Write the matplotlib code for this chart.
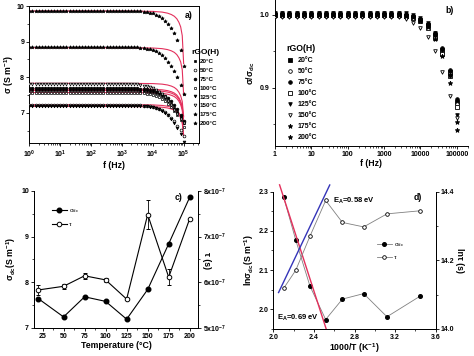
import numpy as np
import matplotlib
matplotlib.use("Agg")

import matplotlib.pyplot as plt
from matplotlib.ticker import MultipleLocator, LogLocator, FixedLocator, FuncFormatter, NullFormatter

plt.rcParams["font.family"] = ["Liberation Sans", "DejaVu Sans"]
plt.rcParams["font.weight"] = "bold"
plt.rcParams["axes.labelweight"] = "bold"
plt.rcParams["mathtext.fontset"] = "custom"
plt.rcParams["mathtext.rm"] = "Liberation Sans:bold"
plt.rcParams["mathtext.it"] = "Liberation Sans:italic:bold"
plt.rcParams["mathtext.bf"] = "Liberation Sans:bold"
plt.rcParams["mathtext.default"] = "regular"

# ---------------------------
# Data: panels a) and b)
# ---------------------------
temp_labels = ["20°C", "50°C", "75°C", "100°C", "125°C", "150°C", "175°C", "200°C"]
markers = ["s", "o", "o", "s", "v", "v", "*", "*"]
filled = [True, False, True, False, True, False, True, True]

freq = [1, 1.26, 1.58, 2.0, 2.51, 3.16, 3.98, 5.01, 6.31, 7.94,
        10, 12.6, 15.8, 20.0, 25.1, 31.6, 39.8, 50.1, 63.1, 79.4,
        100, 126, 158, 200, 251, 316, 398, 501, 631, 794,
        1000, 1260, 1580, 2000, 2510, 3160, 3980, 5010, 6310, 7940,
        10000, 12600, 15800, 20000, 25100, 31600, 39800, 50100, 63100, 79400,
        100000]

# flat level (sigma_dc, S/m) of each temperature in panel a
sigma_flat = [7.63, 7.23, 7.67, 7.57, 7.18, 7.83, 8.83, 9.86]

# sigma/sigma_dc (panel b): 35 flat points then the roll-off from 3.16 kHz to 100 kHz
ratio_20 = [1.000] * 35 + [1.0, 0.999, 0.998, 0.997, 0.995, 0.993, 0.990, 0.986,
                           0.980, 0.972, 0.962, 0.950, 0.937, 0.921, 0.902, 0.880]
ratio_50 = [0.998] * 35 + [0.998, 0.997, 0.996, 0.995, 0.993, 0.991, 0.988, 0.984,
                           0.978, 0.970, 0.960, 0.949, 0.935, 0.919, 0.900, 0.877]
ratio_75 = [1.002] * 35 + [1.002, 1.001, 1.0, 0.999, 0.997, 0.995, 0.992, 0.988,
                           0.982, 0.975, 0.966, 0.955, 0.941, 0.925, 0.906, 0.884]
ratio_100 = [1.000] * 35 + [1.0, 0.999, 0.998, 0.996, 0.994, 0.991, 0.987, 0.982,
                            0.976, 0.968, 0.958, 0.946, 0.932, 0.916, 0.897, 0.874]
ratio_125 = [1.003] * 35 + [1.003, 1.002, 1.001, 1.0, 0.998, 0.996, 0.993, 0.989,
                            0.983, 0.975, 0.965, 0.952, 0.936, 0.916, 0.892, 0.862]
ratio_150 = [0.997] * 35 + [0.996, 0.994, 0.992, 0.989, 0.986, 0.982, 0.977, 0.970,
                            0.961, 0.950, 0.937, 0.922, 0.906, 0.889, 0.873, 0.858]
ratio_175 = [1.001] * 35 + [1.001, 1.0, 0.999, 0.997, 0.995, 0.992, 0.988, 0.983,
                            0.976, 0.967, 0.956, 0.943, 0.927, 0.906, 0.882, 0.853]
ratio_200 = [1.000] * 35 + [1.0, 0.999, 0.998, 0.997, 0.995, 0.993, 0.990, 0.986,
                            0.980, 0.973, 0.964, 0.953, 0.938, 0.918, 0.890, 0.842]
ratios = [ratio_20, ratio_50, ratio_75, ratio_100, ratio_125, ratio_150, ratio_175, ratio_200]

# red fit curves of panel a (normalised)
fit_freq = [1, 1000, 10000, 20000, 30000, 40000, 50000, 60000, 70000, 80000, 90000, 100000]
fit_ratio_lo = [1.0, 1.0, 0.999, 0.997, 0.994, 0.990, 0.985, 0.978, 0.968, 0.955, 0.935, 0.880]
fit_ratio_hi = [1.0, 1.0, 0.999, 0.997, 0.994, 0.990, 0.985, 0.978, 0.968, 0.955, 0.930, 0.850]

# ---------------------------
# Data: panel c)
# ---------------------------
temps = [20, 50, 75, 100, 125, 150, 175, 200]
sigma_dc = [7.64, 7.24, 7.68, 7.58, 7.19, 7.84, 8.84, 9.86]
tau = [5.83e-7, 5.91e-7, 6.14e-7, 6.05e-7, 5.63e-7, 7.48e-7, 6.11e-7, 7.39e-7]
tau_err = [0.10e-7, 0.06e-7, 0.07e-7, 0.05e-7, 0.02e-7, 0.31e-7, 0.17e-7, 0.0]

# ---------------------------
# Data: panel d)
# ---------------------------
inv_T = [2.10, 2.22, 2.36, 2.515, 2.68, 2.89, 3.12, 3.45]
ln_sigma = [2.286, 2.176, 2.059, 1.974, 2.026, 2.040, 1.981, 2.034]
ln_tau = [14.118, 14.171, 14.270, 14.374, 14.310, 14.297, 14.335, 14.344]
red_fit_x = [2.06, 2.52]
red_fit_y = [2.317, 1.95]
blue_fit_x = [2.05, 2.555]
blue_fit_y = [14.106, 14.419]

RED = "#e3305c"
BLUE = "#3434b8"
TICK = 5
LAB = 6.3


def style(ax, spines=("left", "bottom")):
    for s in ["left", "right", "top", "bottom"]:
        ax.spines[s].set_visible(s in spines)
        ax.spines[s].set_linewidth(0.7)
    ax.tick_params(which="major", direction="out", length=2.2, width=0.6, labelsize=TICK, pad=1.5)
    ax.tick_params(which="minor", direction="out", length=1.2, width=0.5)


fig = plt.figure(figsize=(4.74, 3.56), dpi=100)

# ---------------------------
# a) sigma vs f
# ---------------------------
ax_a = fig.add_axes([0.062, 0.598, 0.358, 0.385])
style(ax_a, ("left", "bottom", "top", "right"))
ax_a.tick_params(top=False, right=False, which="both")
for i in range(8):
    sig = np.array(ratios[i]) * sigma_flat[i]
    ax_a.plot(freq, sig, linestyle="none", marker=markers[i],
              ms=2.6 if markers[i] == "*" else 2.0,
              mfc="black" if filled[i] else "white", mec="black", mew=0.5,
              label=temp_labels[i], zorder=3)
    fr = fit_ratio_hi if i >= 6 else fit_ratio_lo
    ax_a.plot(fit_freq, np.array(fr) * sigma_flat[i], color=RED, lw=0.8, zorder=2)
ax_a.set_xscale("log")
ax_a.set_xlim(1, 10 ** 5.5)
ax_a.set_ylim(6.15, 10)
ax_a.xaxis.set_major_locator(LogLocator(base=10, numticks=10))
ax_a.xaxis.set_minor_locator(LogLocator(base=10, subs=range(2, 10), numticks=20))
ax_a.xaxis.set_minor_formatter(NullFormatter())
ax_a.yaxis.set_major_locator(MultipleLocator(1))
ax_a.yaxis.set_minor_locator(MultipleLocator(0.5))
ax_a.set_xlabel("f (Hz)", fontsize=LAB, labelpad=1)
ax_a.set_ylabel("σ (S m$^{-1}$)", fontsize=LAB, labelpad=0.5)
ax_a.text(0.94, 0.93, "a)", transform=ax_a.transAxes, fontsize=LAB, ha="center", va="center")
ax_a.legend(loc="upper left", bbox_to_anchor=(0.955, 0.69), frameon=False, fontsize=4.5,
            title="rGO(H)", title_fontsize=6, handletextpad=0.3, labelspacing=0.55,
            borderaxespad=0, borderpad=0, handlelength=1.0, alignment="left")

# ---------------------------
# b) sigma/sigma_dc vs f
# ---------------------------
ax_b = fig.add_axes([0.580, 0.590, 0.407, 0.409])
style(ax_b)
for i in range(8):
    ax_b.plot(freq[::2], ratios[i][::2], linestyle="none", marker=markers[i],
              ms=3.4 if markers[i] == "*" else 2.6,
              mfc="black" if filled[i] else "white", mec="black", mew=0.6,
              label=temp_labels[i], zorder=3)
ax_b.set_xscale("log")
ax_b.set_xlim(1, 2e5)
ax_b.set_ylim(0.82, 1.02)
ax_b.xaxis.set_major_locator(FixedLocator([1, 10, 100, 1000, 10000, 100000]))
ax_b.xaxis.set_major_formatter(FuncFormatter(lambda v, _: f"{int(round(v))}"))
ax_b.xaxis.set_minor_locator(LogLocator(base=10, subs=range(2, 10), numticks=20))
ax_b.xaxis.set_minor_formatter(NullFormatter())
ax_b.yaxis.set_major_locator(MultipleLocator(0.1))
ax_b.yaxis.set_minor_locator(MultipleLocator(0.05))
ax_b.yaxis.set_major_formatter(FuncFormatter(lambda v, _: f"{v:.1f}"))
ax_b.set_xlabel("f (Hz)", fontsize=LAB, labelpad=1)
ax_b.set_ylabel("σ/σ$_{dc}$", fontsize=LAB, labelpad=2)
ax_b.text(0.905, 0.93, "b)", transform=ax_b.transAxes, fontsize=LAB, ha="center", va="center")
ax_b.legend(loc="upper left", bbox_to_anchor=(0.06, 0.70), frameon=False, fontsize=5,
            title="rGO(H)", title_fontsize=6.3, handletextpad=0.6, labelspacing=0.58,
            borderaxespad=0, borderpad=0, handlelength=1.0, alignment="left")

# ---------------------------
# c) sigma_dc and tau vs temperature
# ---------------------------
ax_c = fig.add_axes([0.072, 0.079, 0.346, 0.385])
style(ax_c, ("left", "bottom", "right"))
l1, = ax_c.plot(temps, sigma_dc, "-o", color="black", mfc="black", ms=3.3, lw=0.8, label="σ$_{dc}$")
ax_c.set_xlim(15, 210)
ax_c.set_ylim(7, 10)
ax_c.xaxis.set_major_locator(MultipleLocator(25))
ax_c.xaxis.set_minor_locator(MultipleLocator(12.5))
ax_c.yaxis.set_major_locator(MultipleLocator(1))
ax_c.yaxis.set_minor_locator(MultipleLocator(0.5))
ax_c.set_xlabel("Temperature (°C)", fontsize=LAB, labelpad=1)
ax_c.set_ylabel("σ$_{dc}$(S m$^{-1}$)", fontsize=LAB, labelpad=2)
ax_c2 = ax_c.twinx()
style(ax_c2, ("left", "bottom", "right"))
eb = ax_c2.errorbar(temps, tau, yerr=tau_err, fmt="-o", color="black", mfc="white", mec="black",
                    ms=3.3, lw=0.8, mew=0.7, elinewidth=0.6, capsize=1.2, capthick=0.6, label="τ")
ax_c2.set_ylim(5e-7, 8e-7)
ax_c2.yaxis.set_major_locator(MultipleLocator(1e-7))
ax_c2.yaxis.set_minor_locator(MultipleLocator(0.5e-7))
ax_c2.yaxis.set_major_formatter(FuncFormatter(lambda v, _: f"{v * 1e7:.0f}x10$^{{-7}}$"))
ax_c2.set_ylabel("τ (s)", fontsize=LAB, rotation=270, va="center")
ax_c2.yaxis.set_label_coords(1.05, 0.49)
ax_c2.text(0.88, 0.95, "c)", transform=ax_c2.transAxes, fontsize=LAB, ha="center", va="center")
ax_c2.legend([l1, eb.lines[0]], ["σ$_{dc}$", "τ"], loc="upper left", bbox_to_anchor=(0.11, 0.88),
             frameon=False, handlelength=2.3, handletextpad=0.4, labelspacing=1.0,
             borderpad=0, borderaxespad=0, prop={"weight": "normal", "size": 4.5})

# ---------------------------
# d) Arrhenius plots
# ---------------------------
ax_d = fig.add_axes([0.577, 0.076, 0.342, 0.386])
style(ax_d, ("left", "bottom", "right"))
l3, = ax_d.plot(inv_T, ln_sigma, "-o", color="gray", mfc="black", mec="black", ms=2.6, lw=0.6, label="σ$_{dc}$")
ax_d.plot(red_fit_x, red_fit_y, color=RED, lw=1.0, clip_on=False, zorder=4)
ax_d.set_xlim(2.0, 3.6)
ax_d.set_ylim(1.95, 2.3)
ax_d.xaxis.set_major_locator(MultipleLocator(0.4))
ax_d.xaxis.set_minor_locator(MultipleLocator(0.2))
ax_d.xaxis.set_major_formatter(FuncFormatter(lambda v, _: f"{v:.1f}"))
ax_d.yaxis.set_major_locator(MultipleLocator(0.1))
ax_d.yaxis.set_minor_locator(MultipleLocator(0.05))
ax_d.yaxis.set_major_formatter(FuncFormatter(lambda v, _: f"{v:.1f}"))
ax_d.set_xlabel("1000/T (K$^{-1}$)", fontsize=LAB, labelpad=0.5)
ax_d.set_ylabel("lnσ$_{dc}$(S m$^{-1}$)", fontsize=LAB, labelpad=2)
ax_d2 = ax_d.twinx()
style(ax_d2, ("left", "bottom", "right"))
l4, = ax_d2.plot(inv_T, ln_tau, "-o", color="gray", mfc="white", mec="black", ms=2.6, lw=0.6, mew=0.6, label="τ")
ax_d2.plot(blue_fit_x, blue_fit_y, color=BLUE, lw=1.0, clip_on=False, zorder=4)
ax_d2.set_ylim(14.0, 14.4)
ax_d2.yaxis.set_major_locator(MultipleLocator(0.2))
ax_d2.yaxis.set_minor_locator(MultipleLocator(0.1))
ax_d2.yaxis.set_major_formatter(FuncFormatter(lambda v, _: f"{v:.1f}"))
ax_d2.set_ylabel("lnτ (s)", fontsize=LAB, rotation=270, labelpad=7)
ax_d2.text(0.89, 0.955, "d)", transform=ax_d2.transAxes, fontsize=LAB, ha="center", va="center")
ax_d2.text(2.59, 14.374, "E$_A$=0.58 eV", fontsize=5.5, ha="left", va="center")
ax_d2.text(2.03, 14.032, "E$_A$=0.69 eV", fontsize=5.5, ha="left", va="center")
ax_d2.legend([l3, l4], ["σ$_{dc}$", "τ"], loc="upper left", bbox_to_anchor=(0.64, 0.64),
             frameon=False, handlelength=2.3, handletextpad=0.4, labelspacing=0.9,
             borderpad=0, borderaxespad=0, prop={"weight": "normal", "size": 4.5})

fig.savefig("out.png", dpi=100)
